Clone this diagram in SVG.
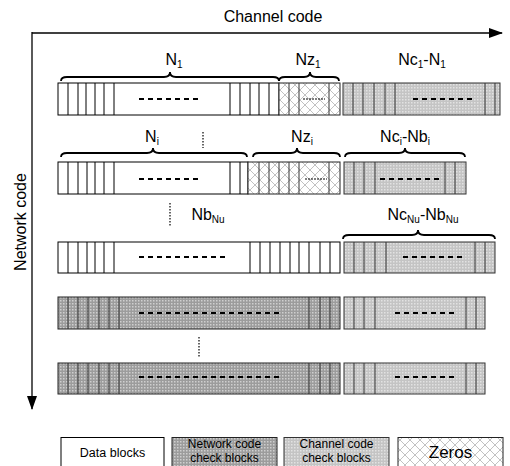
<svg xmlns="http://www.w3.org/2000/svg" width="510" height="466" viewBox="0 0 510 466">
<style>
text{font-family:"Liberation Sans",Arial,sans-serif;fill:#000}
.lbl{font-size:16px;text-anchor:middle}
.sub{font-size:10px}
.data{fill:#fff;stroke:#000;stroke-width:1}
.zero{fill:url(#zp);stroke:#222;stroke-width:1}
.net{fill:url(#np);stroke:#222;stroke-width:1}
.chk{fill:url(#cp);stroke:#333;stroke-width:1}
.div{stroke:#000;stroke-width:1}
.divg{stroke:#333;stroke-width:1}
.dash{stroke:#000;stroke-width:2.2;stroke-dasharray:5 4;fill:none}
.tdash{stroke:#000;stroke-width:1;stroke-dasharray:2 1;fill:none}
.dot{stroke:#000;stroke-width:1.2;stroke-dasharray:1.5 1.5;fill:none}
.brace{stroke:#000;stroke-width:1.8;fill:none}
.axis{stroke:#000;stroke-width:1.3;fill:none}
</style>
<defs>
<pattern id="np" width="3" height="3" patternUnits="userSpaceOnUse">
<rect width="3" height="3" fill="#9c9c9c"/>
<rect x="0" y="0" width="1.5" height="1.5" fill="#cfcfcf"/>
</pattern>
<pattern id="cp" width="3" height="3" patternUnits="userSpaceOnUse">
<rect width="3" height="3" fill="#c4c4c4"/>
<rect x="0" y="0" width="1.5" height="1.5" fill="#e2e2e2"/>
</pattern>
<pattern id="zp" width="10" height="10" patternUnits="userSpaceOnUse">
<rect width="10" height="10" fill="#fff"/>
<path d="M0,0 L10,10 M10,0 L0,10" stroke="#c2c2c2" stroke-width="1"/>
</pattern>
<marker id="ah" markerWidth="14" markerHeight="10" refX="13" refY="5" orient="auto" markerUnits="userSpaceOnUse">
<path d="M0,0 L14,5 L0,10 Z" fill="#000"/>
</marker>
</defs>

<g id="axes">
<path class="axis" d="M32,33 L502,33" marker-end="url(#ah)"/>
<path class="axis" d="M32,32 L32,409" marker-end="url(#ah)"/>
<text x="273" y="22" class="lbl">Channel code</text>
<text x="0" y="0" class="lbl" transform="translate(26,222) rotate(-90)">Network code</text>
</g>

<g id="row1">
<rect class="data" x="58" y="83" width="221" height="32"/>
<path class="div" d="M68,83V115M78,83V115M86,83V115M95,83V115M104,83V115M114,83V115M230,83V115M240,83V115M250,83V115M259,83V115M269,83V115"/>
<line class="dash" x1="139" y1="99" x2="200" y2="99"/>
<rect class="zero" x="279" y="83" width="61" height="32"/>
<path class="divg" d="M289,83V115M299,83V115M329,83V115"/>
<line class="tdash" x1="303" y1="99" x2="325" y2="99"/>
<rect class="chk" x="343" y="83" width="157" height="32"/>
<path class="divg" d="M353,83V115M363,83V115M374,83V115M385,83V115M395,83V115M485,83V115M495,83V115"/>
<line class="dash" x1="413" y1="99" x2="472" y2="99"/>
</g>

<g id="row2">
<rect class="data" x="58" y="162" width="190" height="32"/>
<path class="div" d="M68,162V194M78,162V194M87,162V194M95,162V194M104,162V194M114,162V194M230,162V194M240,162V194"/>
<line class="dash" x1="139" y1="179" x2="200" y2="179"/>
<rect class="zero" x="248" y="162" width="92" height="32"/>
<path class="divg" d="M259,162V194M269,162V194M279,162V194M289,162V194M299,162V194M329,162V194"/>
<line class="tdash" x1="305" y1="179" x2="327" y2="179"/>
<rect class="chk" x="344" y="162" width="122" height="32"/>
<path class="divg" d="M354,162V194M364,162V194M375,162V194M445,162V194M455,162V194"/>
<line class="dash" x1="380" y1="179" x2="439" y2="179"/>
</g>

<g id="row3">
<rect class="data" x="58" y="242" width="282" height="31"/>
<path class="div" d="M68,242V273M78,242V273M87,242V273M95,242V273M104,242V273M114,242V273M250,242V273M260,242V273M270,242V273M280,242V273M290,242V273M299,242V273M309,242V273M320,242V273M330,242V273"/>
<line class="dash" x1="139" y1="257" x2="225" y2="257"/>
<rect class="chk" x="344" y="242" width="151" height="31"/>
<path class="divg" d="M354,242V273M364,242V273M375,242V273M386,242V273M475,242V273M485,242V273"/>
<line class="dash" x1="403" y1="257" x2="462" y2="257"/>
</g>

<g id="row4">
<rect class="net" x="58" y="297" width="282" height="32"/>
<path class="divg" d="M68,297V329M78,297V329M88,297V329M99,297V329M109,297V329M119,297V329M309,297V329M320,297V329M330,297V329"/>
<line class="dash" x1="139" y1="313" x2="279" y2="313"/>
<rect class="chk" x="344" y="297" width="141" height="32"/>
<path class="divg" d="M354,297V329M364,297V329M375,297V329M466,297V329M476,297V329"/>
<line class="dash" x1="395" y1="313" x2="454" y2="313"/>
</g>

<g id="row5">
<rect class="net" x="58" y="363" width="282" height="31"/>
<path class="divg" d="M68,363V394M78,363V394M88,363V394M99,363V394M109,363V394M119,363V394M309,363V394M320,363V394M330,363V394"/>
<line class="dash" x1="139" y1="377" x2="279" y2="377"/>
<rect class="chk" x="344" y="363" width="141" height="31"/>
<path class="divg" d="M354,363V394M364,363V394M375,363V394M466,363V394M476,363V394"/>
<line class="dash" x1="395" y1="377" x2="454" y2="377"/>
</g>

<g id="braces">
<path class="brace" d="M61,81 Q61,77 67,77 L164,77 Q170,77 170,72 Q170,77 176,77 L273,77 Q279,77 279,81"/>
<path class="brace" d="M279,81 Q279,77 285,77 L304,77 Q310,77 310,72 Q310,77 316,77 L333,77 Q339,77 339,81"/>
<path class="brace" d="M61,157 Q61,153 67,153 L147,153 Q153,153 153,148 Q153,153 159,153 L241,153 Q247,153 247,157"/>
<path class="brace" d="M253,157 Q253,153 259,153 L291,153 Q297,153 297,148 Q297,153 303,153 L334,153 Q340,153 340,157"/>
<path class="brace" d="M345,157 Q345,153 351,153 L399,153 Q405,153 405,148 Q405,153 411,153 L459,153 Q465,153 465,157"/>
<path class="brace" d="M343,239 Q343,235 349,235 L412,235 Q418,235 418,230 Q418,235 424,235 L489,235 Q495,235 495,239"/>
</g>

<g id="labels">
<text x="174" y="65" class="lbl">N<tspan class="sub" dy="3">1</tspan></text>
<text x="308" y="65" class="lbl">Nz<tspan class="sub" dy="3">1</tspan></text>
<text x="422" y="65" class="lbl">Nc<tspan class="sub" dy="3">1</tspan><tspan dy="-3">-N</tspan><tspan class="sub" dy="3">1</tspan></text>
<text x="152" y="142" class="lbl">N<tspan class="sub" dy="3">i</tspan></text>
<text x="302" y="142" class="lbl">Nz<tspan class="sub" dy="3">i</tspan></text>
<text x="405" y="142" class="lbl">Nc<tspan class="sub" dy="3">i</tspan><tspan dy="-3">-Nb</tspan><tspan class="sub" dy="3">i</tspan></text>
<text x="208" y="220" class="lbl">Nb<tspan class="sub" dy="3">Nu</tspan></text>
<text x="423" y="220" class="lbl">Nc<tspan class="sub" dy="3">Nu</tspan><tspan dy="-3">-Nb</tspan><tspan class="sub" dy="3">Nu</tspan></text>
<line class="dot" x1="203" y1="132" x2="203" y2="148"/>
<line class="dot" x1="170" y1="203" x2="170" y2="227"/>
<line class="dot" x1="199" y1="337" x2="199" y2="358"/>
</g>

<g id="legend">
<rect class="data" x="61" y="437.5" width="103" height="30"/>
<text x="112.5" y="457" font-size="12.5" text-anchor="middle">Data blocks</text>
<rect class="net" x="172" y="437.5" width="105" height="30"/>
<text x="224.5" y="448" font-size="12" text-anchor="middle">Network code</text>
<text x="224.5" y="462" font-size="12" text-anchor="middle">check blocks</text>
<rect class="chk" x="284" y="437.5" width="105" height="30"/>
<text x="336.5" y="448" font-size="12" text-anchor="middle">Channel code</text>
<text x="336.5" y="462" font-size="12" text-anchor="middle">check blocks</text>
<rect class="zero" x="398" y="437.5" width="105" height="30"/>
<text x="450.5" y="458" font-size="17" text-anchor="middle">Zeros</text>
</g>
</svg>
